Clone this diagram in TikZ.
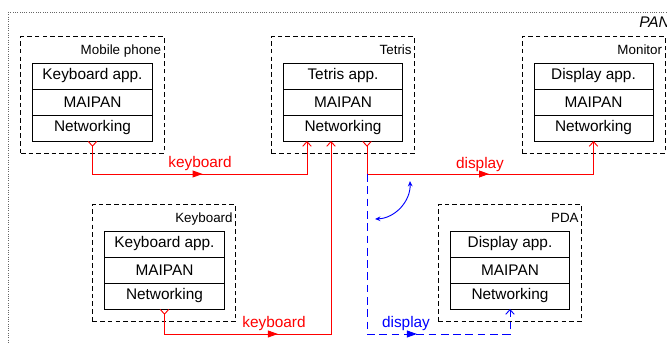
\documentclass[tikz,border=0pt]{standalone}
\usepackage{fontspec}
\setmainfont{Liberation Sans}
\usetikzlibrary{positioning,calc,arrows.meta,decorations.markings}
\begin{document}
\begin{tikzpicture}[x=0.65pt,y=-0.65pt,>=Straight Barb,
    layer/.style={draw,line width=0.6pt,outer sep=0pt,inner sep=0pt,minimum width=77.4pt,minimum height=16.9pt},
    device/.style={draw,dash pattern=on 3pt off 2pt,line width=0.6pt,minimum width=93pt,minimum height=76pt},
    devname/.style={anchor=north east,inner xsep=2pt,inner ysep=5.5pt,font=\fontsize{8.7}{10}\selectfont},
    link/.style={line width=0.6pt,{Straight Barb[reversed,length=3pt,width=5.5pt]}-{Straight Barb[length=3pt,width=5.5pt]}},
    midarrow/.style={postaction={decorate,decoration={markings,mark=at position #1 with {\arrow{Triangle[length=6.5pt,width=4.5pt]}}}}},
    lbl/.style={inner sep=0pt}]
\useasboundingbox (0,0) rectangle (667,343);
\draw[densely dotted,gray!80!black,line width=0.5pt] (8,12) rectangle (690,370);
\node[anchor=west,inner sep=0pt,font=\itshape] (pan) at (639,22) {PAN};
%
\node[device] (mobile) at (92.5,95) {};
\node[devname] at (mobile.north east) {Mobile phone};
\node[layer] (mpApp) at (92.5,76) {Keyboard app.};
\node[layer,below=0pt of mpApp] (mpMai) {MAIPAN};
\node[layer,below=0pt of mpMai] (mpNet) {Networking};
%
\node[device] (tetris) at (343,95) {};
\node[devname] at (tetris.north east) {Tetris};
\node[layer] (tApp) at (343,76) {Tetris app.};
\node[layer,below=0pt of tApp] (tMai) {MAIPAN};
\node[layer,below=0pt of tMai] (tNet) {Networking};
%
\node[device] (monitor) at (593.5,95) {};
\node[devname] at (monitor.north east) {Monitor};
\node[layer] (moApp) at (593.5,76) {Display app.};
\node[layer,below=0pt of moApp] (moMai) {MAIPAN};
\node[layer,below=0pt of moMai] (moNet) {Networking};
%
\node[device] (keyboard) at (164,263) {};
\node[devname] at (keyboard.north east) {Keyboard};
\node[layer] (kbApp) at (164.5,244) {Keyboard app.};
\node[layer,below=0pt of kbApp] (kbMai) {MAIPAN};
\node[layer,below=0pt of kbMai] (kbNet) {Networking};
%
\node[device] (pda) at (510,263) {};
\node[devname] at (pda.north east) {PDA};
\node[layer] (pdaApp) at (510,244) {Display app.};
\node[layer,below=0pt of pdaApp] (pdaMai) {MAIPAN};
\node[layer,below=0pt of pdaMai] (pdaNet) {Networking};
%
\coordinate (tIn1) at ($(tNet.south)+(-36,0)$);
\coordinate (tIn2) at ($(tNet.south)+(-12,0)$);
\coordinate (tOut) at ($(tNet.south)+(24,0)$);
\coordinate (split) at ($(tOut)+(0,33)$);
\draw[link,red,midarrow=0.51] (mpNet.south) |- ($(tIn1)+(0,33)$) -- (tIn1);
\draw[link,red,midarrow=0.36] (kbNet.south) |- ($(tIn2)+(0,193)$) -- (tIn2);
\draw[link,red,midarrow=0.53] (tOut) -- (split) -| (moNet.south);
\draw[line width=0.6pt,blue,dash pattern=on 5pt off 3pt,-{Straight Barb[length=3pt,width=5.5pt]},midarrow=0.64] (split) -- ++(0,160) -| (pdaNet.south);
\node[lbl,red] (kbLab1) at (200,164) {keyboard};
\node[lbl,red] (kbLab2) at (274,324) {keyboard};
\node[lbl,red] (dpLab1) at (480,164.5) {display};
\node[lbl,blue] (dpLab2) at (406,324) {display};
%
\coordinate (swA) at (410,181);
\coordinate (swB) at (375,219);
\draw[blue,line width=0.6pt,{Stealth[length=3.5pt,width=3pt]}-{Stealth[length=3.5pt,width=3pt]}] (swA) to[bend left=45] (swB);
\end{tikzpicture}
\end{document}
